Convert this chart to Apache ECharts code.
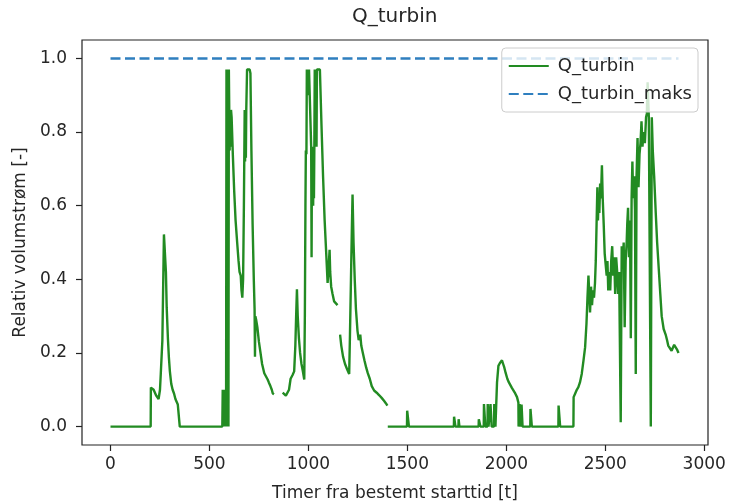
<!DOCTYPE html>
<html>
<head>
<meta charset="utf-8">
<script src="https://cdn.jsdelivr.net/npm/echarts@6/dist/echarts.min.js"></script>
<style>
html,body{margin:0;padding:0;background:#fff;}
#chart{width:729px;height:504px;}
</style>
</head>
<body>
<div id="chart"></div>
<script>
// ---- data ----
const hours = [
0,203,204,210,218,230,243,250,254,262,268,270,277,280,284,290,295,300,307,314,321,328,333,340,348,350,
565,567,569,571,573,575,577,579,581,583,584,586,587,589,590,592,593,595,596,598,600,602,604,606,609,612,618,625,632,640,647,652,658,662,666,670,674,678,680,682,684,686,690,696,703,707,712,718,724,728,730,732,736,742,750,758,766,777,785,794,800,808,815,820,826,848,
870,878,886,895,902,910,920,928,934,938,942,946,952,958,965,972,979,982,985,987,990,992,997,1000,1003,1010,1014,1016,1018,1020,1022,1024,1026,1028,1030,1032,1038,1041,1043,1058,1066,1074,1082,1090,1097,1103,1107,1110,1115,1122,1130,1138,1147,1153,
1160,1166,1175,1185,1196,1206,1210,1215,1220,1223,1228,1234,1240,1248,1254,1258,1262,1267,1275,1283,1292,1300,1310,1320,1332,1345,1358,1370,1382,1392,1399,1400,
1401,1498,1499,1507,1508,1735,1736,1742,1743,1758,1759,1762,1763,1860,1861,1868,1869,1886,1887,1893,1894,1905,1906,1909,1910,1919,1920,1925,1926,1938,1939,1944,1945,1950,1953,1960,1967,1972,1978,1984,1990,1997,2005,2013,2020,2028,2036,2045,2054,2061,2062,2066,2067,2071,2072,2076,2077,2081,2082,2121,2122,2128,2129,2263,2264,2271,2272,2339,
2340,2348,2356,2364,2372,2381,2390,2398,2405,2410,2415,2419,2423,2428,2433,2438,2443,2448,2452,2456,2460,2463,2467,2470,2474,2478,2483,2487,2492,2497,2502,2507,2511,2515,2520,2525,2530,2535,2540,2545,2550,2555,2560,2565,2570,2578,2583,2588,2593,2598,2603,2608,2611,2615,2620,2625,2629,2633,2637,2641,2646,2650,2654,2658,2663,2668,2673,2678,2683,2688,2693,2700,2706,2710,2714,2720,2726,2730,2735,2740,2747,2755,2762,2770,2778,2785,2795,2805,2812,2818,2826,2835,2842,2848,2855,2862,2870
];
const qTurbin = [
0,0,0.106,0.11,0.1,0.085,0.075,0.1,0.143,0.233,0.45,0.522,0.522,0.42,0.323,0.24,0.188,0.15,0.116,0.1,0.09,0.075,0.07,0.06,0.055,0,
0,0.1,0,0.1,0,0.1,0,0.1,0,0.1,0,0.97,0,0.97,0,0.97,0,0.97,0,0.97,0.86,0.75,0.86,0.76,0.86,0.84,0.74,0.64,0.56,0.5,0.45,0.42,0.41,0.37,0.35,0.4,0.6,0.86,0.72,0.86,0.73,0.86,0.97,0.97,0.97,0.96,0.75,0.55,0.4,0.32,0.19,0.3,0.29,0.27,0.23,0.2,0.17,0.145,0.14,0.128,0.12,0.11,0.1,0.09,0.088,null,
0.092,0.09,0.084,0.085,0.1,0.13,0.14,0.15,0.22,0.3,0.373,0.3,0.24,0.2,0.17,0.15,0.128,0.3,0.6,0.75,0.74,0.97,0.97,0.9,0.97,0.97,0.76,0.46,0.76,0.6,0.76,0.6,0.76,0.62,0.76,0.97,0.97,0.76,0.97,0.97,0.82,0.68,0.56,0.47,0.39,0.44,0.48,0.42,0.38,0.36,0.34,0.345,0.33,null,
0.25,0.22,0.19,0.17,0.155,0.143,0.25,0.4,0.55,0.63,0.5,0.4,0.32,0.26,0.235,0.24,0.25,0.22,0.2,0.18,0.16,0.145,0.13,0.11,0.098,0.092,0.085,0.078,0.07,0.063,0.057,null,
0,0,0.043,0.043,0,0,0.027,0.027,0,0,0.02,0.02,0,0,0.02,0.02,0,0,0.061,0.061,0,0,0.061,0.061,0,0,0.061,0.061,0,0,0.061,0.061,0,0,0.12,0.165,0.172,0.168,0.18,0.17,0.16,0.145,0.13,0.12,0.116,0.105,0.1,0.09,0.08,0.065,0,0,0.061,0.061,0,0,0.06,0.06,0,0,0.048,0.048,0,0,0.057,0.057,0,0,
0.08,0.09,0.1,0.107,0.12,0.143,0.18,0.215,0.28,0.35,0.41,0.36,0.31,0.38,0.33,0.37,0.35,0.39,0.45,0.55,0.65,0.56,0.63,0.58,0.66,0.62,0.71,0.62,0.55,0.47,0.44,0.41,0.45,0.37,0.42,0.37,0.45,0.49,0.41,0.46,0.36,0.46,0.42,0.36,0.42,0.012,0.49,0.44,0.5,0.27,0.45,0.5,0.55,0.594,0.46,0.56,0.24,0.62,0.72,0.62,0.68,0.59,0.143,0.68,0.784,0.65,0.74,0.77,0.829,0.76,0.8,0.77,0.84,0.85,0.935,0.84,0.84,0,0.84,0.75,0.68,0.58,0.5,0.43,0.36,0.3,0.265,0.25,0.235,0.22,0.225,0.206,0.215,0.222,0.224,0.21,0.2,0.185
];
const hoursMax = [0, 2870];
const qMax = [1.0, 1.0];
const xTicks = [0, 500, 1000, 1500, 2000, 2500, 3000];
const yTicks = [0.0, 0.2, 0.4, 0.6, 0.8, 1.0];
const seriesNames = ['Q_turbin', 'Q_turbin_maks'];

const chart = echarts.init(document.getElementById('chart'), null, {renderer: 'canvas'});
const FONT = 'DejaVu Sans';
const txt = '#262626';

const turbData = hours.map((h, i) => [h, qTurbin[i] === null ? '-' : qTurbin[i]]);
const maxData = hoursMax.map((h, i) => [h, qMax[i]]);

chart.setOption({
  animation: false,
  backgroundColor: '#ffffff',
  title: {
    text: 'Q_turbin',
    left: 347, top: 2,
    textStyle: {fontFamily: FONT, fontSize: 20, fontWeight: 'normal', color: txt}
  },
  legend: {
    orient: 'vertical',
    right: 31, top: 48,
    padding: [8, 6, 8, 6],
    backgroundColor: 'rgba(255,255,255,0.8)',
    borderColor: '#cccccc', borderWidth: 1, borderRadius: 4,
    itemWidth: 40, itemHeight: 12, itemGap: 8,
    itemStyle: {opacity: 0},
    data: seriesNames,
    textStyle: {fontFamily: FONT, fontSize: 18, color: txt, lineHeight: 20, padding: [0, 0, 0, 4]}
  },
  grid: {
    left: 82, right: 21, top: 40, bottom: 59,
    outerBoundsMode: 'none',
    show: true, borderColor: '#222', borderWidth: 1.2, backgroundColor: 'transparent'
  },
  xAxis: {
    type: 'value', min: -144, max: 3019,
    name: 'Timer fra bestemt starttid [t]', nameLocation: 'middle', nameGap: 40,
    nameTextStyle: {fontFamily: FONT, fontSize: 17, color: txt},
    axisLine: {show: false, onZero: false},
    splitLine: {show: false},
    axisTick: {show: true, length: 6, customValues: xTicks, lineStyle: {color: '#222', width: 1.2}},
    axisLabel: {customValues: xTicks, fontFamily: FONT, fontSize: 17, color: txt, margin: 11,
      formatter: v => String(v)}
  },
  yAxis: {
    type: 'value', min: -0.05, max: 1.05,
    name: 'Relativ volumstrøm [-]', nameLocation: 'middle', nameGap: 52, nameRotate: 90,
    nameTextStyle: {fontFamily: FONT, fontSize: 17, color: txt},
    axisLine: {show: false, onZero: false},
    splitLine: {show: false},
    axisTick: {show: true, length: 6, customValues: yTicks, lineStyle: {color: '#222', width: 1.2}},
    axisLabel: {customValues: yTicks, fontFamily: FONT, fontSize: 17, color: txt, margin: 15,
      formatter: v => v.toFixed(1)}
  },
  series: [
    {
      name: seriesNames[0], type: 'line', data: turbData,
      showSymbol: false, symbol: 'none', connectNulls: false,
      lineStyle: {color: '#228B22', width: 2.4},
      itemStyle: {color: '#228B22'},
      z: 3
    },
    {
      name: seriesNames[1], type: 'line', data: maxData,
      showSymbol: false, symbol: 'none',
      lineStyle: {color: '#2f7fbf', width: 2.5, type: [10, 4.5]},
      itemStyle: {color: '#2f7fbf'},
      z: 2
    }
  ]
});
</script>
</body>
</html>
